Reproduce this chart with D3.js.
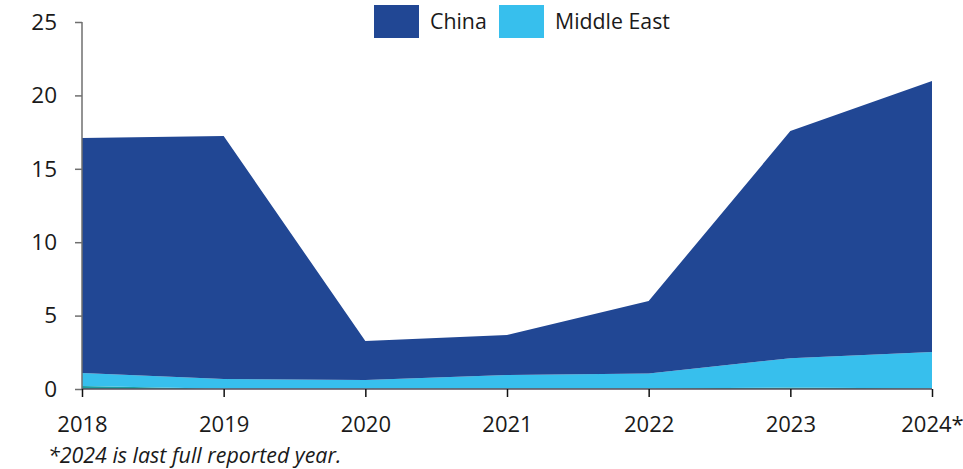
<!DOCTYPE html>
<html lang="en">
<head>
<meta charset="UTF-8">
<title>China and Middle East</title>
<script src="https://d3js.org/d3.v7.min.js"></script>
<style>
    body { margin: 0; background: #fff; font-family: "Open Sans", sans-serif; }
    svg { display: block; }
</style>
</head>
<body>
<svg id="chart" width="963" height="469"></svg>
<script>
    const years = ["2018", "2019", "2020", "2021", "2022", "2023", "2024*"];
    const other = [0.2, 0.02, 0.02, 0.03, 0.03, 0.1, 0.03];
    const middleEast = [0.89, 0.66, 0.59, 0.92, 1.03, 2.0, 2.49];
    const china = [16.0, 16.55, 2.66, 2.73, 4.94, 15.47, 18.46];
    const yTicks = [0, 5, 10, 15, 20, 25];

    const series = [
        { key: "other", values: other, color: "#1b9ea0", legend: false },
        { key: "Middle East", values: middleEast, color: "#37bfed", legend: true },
        { key: "China", values: china, color: "#214794", legend: true }
    ];

    const svg = d3.select("#chart");
    const margin = { left: 82, right: 31, top: 22, bottom: 80 };
    const width = 963, height = 469;

    const x = d3.scalePoint().domain(years).range([margin.left, width - margin.right]);
    const y = d3.scaleLinear().domain([0, 25]).range([height - margin.bottom, margin.top]);

    // build stack table
    const table = years.map((yr, i) => {
        const row = { year: yr };
        series.forEach(s => row[s.key] = s.values[i]);
        return row;
    });
    const stacked = d3.stack().keys(series.map(s => s.key))(table);

    const area = d3.area()
        .x(d => x(d.data.year))
        .y0(d => y(d[0]))
        .y1(d => y(d[1]));

    svg.selectAll(".layer")
        .data(stacked)
        .join("path")
        .attr("class", "layer")
        .attr("d", area)
        .attr("fill", (d, i) => series[i].color);

    // y axis
    const yAxis = svg.append("g")
        .attr("transform", `translate(${margin.left},0)`)
        .call(d3.axisLeft(y).tickValues(yTicks).tickSize(7).tickPadding(18));
    yAxis.select(".domain").attr("stroke", "#6f6f6f").attr("stroke-width", 1.5)
        .attr("d", `M0,${y(25)}V${y(0)}`);
    yAxis.selectAll(".tick line").attr("stroke", "#6f6f6f").attr("stroke-width", 1.5);
    yAxis.selectAll(".tick text").attr("font-size", "22.5px").attr("fill", "#1a1a1a")
        .attr("font-family", "Open Sans");

    // x axis
    const xAxis = svg.append("g")
        .attr("transform", `translate(0,${y(0)})`)
        .call(d3.axisBottom(x).tickSize(8).tickPadding(19));
    xAxis.select(".domain").attr("stroke", "#5a4f5c").attr("stroke-width", 1.5)
        .attr("d", `M${margin.left},0H${width - margin.right}`);
    xAxis.selectAll(".tick line").attr("stroke", "#111").attr("stroke-width", 1.5);
    xAxis.selectAll(".tick text").attr("font-size", "22px").attr("fill", "#1a1a1a")
        .attr("font-family", "Open Sans");

    // legend
    const legendItems = series.filter(s => s.legend).reverse();
    const legendX = [374, 499];
    const legend = svg.append("g");
    legendItems.forEach((s, i) => {
        legend.append("rect")
            .attr("x", legendX[i]).attr("y", 5)
            .attr("width", 45).attr("height", 33)
            .attr("fill", s.color);
        legend.append("text")
            .attr("x", legendX[i] + 56).attr("y", 29)
            .attr("font-size", "21.3px").attr("fill", "#1a1a1a")
            .text(s.key);
    });

    // footnote
    svg.append("text")
        .attr("x", 48).attr("y", 463)
        .attr("font-size", "21.4px").attr("font-style", "italic").attr("fill", "#1a1a1a")
        .text("*2024 is last full reported year.");
</script>
</body>
</html>
